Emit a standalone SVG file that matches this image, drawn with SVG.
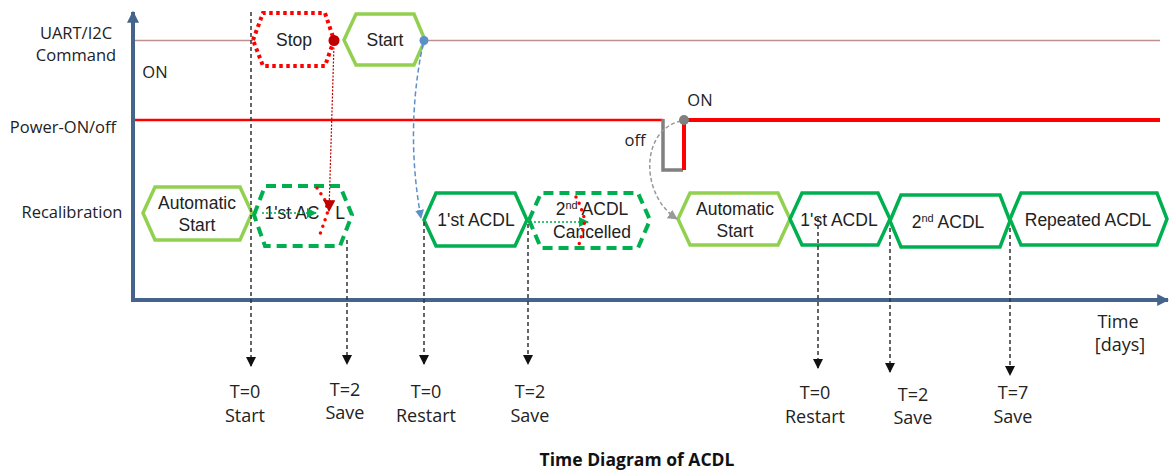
<svg xmlns="http://www.w3.org/2000/svg" width="1169" height="474" viewBox="0 0 1169 474">
<defs>
<style>
.lbl{font-family:"Open Sans","Liberation Sans",sans-serif;font-size:16.5px;fill:#222;text-anchor:middle}
.tl{font-family:"Open Sans","Liberation Sans",sans-serif;font-size:18px;fill:#222;text-anchor:middle}
.hx{font-family:"Liberation Sans",Arial,sans-serif;font-size:17.5px;fill:#222;text-anchor:middle}
.sup{font-size:11px}
.lg{fill:#fff;stroke:#92d050;stroke-width:3.5}
.dg{fill:#fff;stroke:#00b050;stroke-width:3.5}
.dgd{fill:#fff;stroke:#00b050;stroke-width:4;stroke-dasharray:10 6}
.vd{stroke:#333;stroke-width:1.5;stroke-dasharray:4 3;fill:none}
</style>
<marker id="ab" viewBox="0 0 10 10" refX="9" refY="5" markerWidth="10" markerHeight="10" markerUnits="userSpaceOnUse" orient="auto"><path d="M0,0 L10,5 L0,10 Z" fill="#111"/></marker>
<marker id="ax" viewBox="0 0 10 10" refX="9" refY="5" markerWidth="12" markerHeight="12" markerUnits="userSpaceOnUse" orient="auto"><path d="M0,0 L10,5 L0,10 Z" fill="#44648c"/></marker>
<marker id="ar" viewBox="0 0 10 10" refX="9" refY="5" markerWidth="12" markerHeight="12" markerUnits="userSpaceOnUse" orient="auto"><path d="M0,0 L10,5 L0,10 Z" fill="#c00000"/></marker>
<marker id="abl" viewBox="0 0 10 10" refX="9" refY="5" markerWidth="9" markerHeight="9" markerUnits="userSpaceOnUse" orient="auto"><path d="M0,0 L10,5 L0,10 Z" fill="#5b8fc9"/></marker>
<marker id="agr" viewBox="0 0 10 10" refX="9" refY="5" markerWidth="10" markerHeight="10" markerUnits="userSpaceOnUse" orient="auto"><path d="M0,0 L10,5 L0,10 Z" fill="#999"/></marker>
<marker id="agn" viewBox="0 0 10 10" refX="9" refY="5" markerWidth="10" markerHeight="10" markerUnits="userSpaceOnUse" orient="auto"><path d="M0,0 L10,5 L0,10 Z" fill="#00b050"/></marker>
</defs>
<rect width="1169" height="474" fill="#fff"/>

<g id="labels">
<text class="lbl" x="76" y="39">UART/I2C</text>
<text class="lbl" x="76" y="61">Command</text>
<text class="lbl" x="63" y="133">Power-ON/off</text>
<text class="lbl" x="72" y="218">Recalibration</text>
<text class="lbl" x="155" y="78">ON</text>
<text class="lbl" x="700" y="106">ON</text>
<text class="lbl" x="635" y="146">off</text>
<text class="tl" x="1118" y="328">Time</text>
<text class="tl" x="1120" y="351">[days]</text>
</g>

<g id="signals">
<line x1="135" y1="40.5" x2="253" y2="40.5" stroke="#c09090" stroke-width="1.5"/>
<line x1="425" y1="40.5" x2="1160" y2="40.5" stroke="#c09090" stroke-width="1.5"/>
<line x1="135" y1="120" x2="663" y2="120" stroke="#ff0000" stroke-width="2.5"/>
<polyline points="663,119 663,170 683,170" fill="none" stroke="#808080" stroke-width="3.5"/>
<polyline points="684,170 684,120 1160,120" fill="none" stroke="#ff0000" stroke-width="4"/>
</g>

<g id="axes">
<line x1="133" y1="300" x2="133" y2="12" stroke="#44648c" stroke-width="4" marker-end="url(#ax)"/>
<line x1="131" y1="300" x2="1168" y2="300" stroke="#44648c" stroke-width="4" marker-end="url(#ax)"/>
</g>

<g id="n-stop">
<polygon points="253,40 263,13 325,13 334,40 325,66 263,66" fill="#fff" stroke="#ff0000" stroke-width="4" stroke-dasharray="3.5 3.5"/>
<text class="hx" x="294" y="46">Stop</text>
</g>
<g id="n-start">
<polygon class="lg" points="344,40 356,14 414,14 425,40 414,65 356,65"/>
<text class="hx" x="385" y="46">Start</text>
</g>
<g id="n-auto1">
<polygon class="lg" points="143,213 155,187 240,187 252,213 240,240 155,240"/>
<text class="hx" x="197" y="209">Automatic</text>
<text class="hx" x="197" y="231">Start</text>
</g>
<g id="n-acdl1a">
<polygon class="dgd" points="254,215 265,186 340,186 352,215 340,246 265,246"/>
<text class="hx" x="292" y="219">1'st AC</text>
<text class="hx" x="340" y="219">L</text>
</g>
<g id="n-acdl1b">
<polygon class="dg" points="424,220 436,193 515,193 527,220 515,246 436,246"/>
<text class="hx" x="476" y="226">1'st ACDL</text>
</g>
<g id="n-acdl2c">
<polygon class="dgd" points="529,220 541,193 638,193 650,220 638,248 541,248"/>
<text class="hx" x="592" y="215">2<tspan class="sup" dy="-6">nd</tspan><tspan dy="6"> ACDL</tspan></text>
<text class="hx" x="592" y="238">Cancelled</text>
</g>
<g id="n-auto2">
<polygon class="lg" points="678,219 690,193 778,193 790,219 778,245 690,245"/>
<text class="hx" x="735" y="215">Automatic</text>
<text class="hx" x="735" y="237">Start</text>
</g>
<g id="n-acdl1c">
<polygon class="dg" points="790,219 802,193 878,193 890,219 878,245 802,245"/>
<text class="hx" x="839" y="226">1'st ACDL</text>
</g>
<g id="n-acdl2">
<polygon class="dg" points="890,221 901,195 1000,195 1010,221 1000,247 901,247"/>
<text class="hx" x="948" y="228">2<tspan class="sup" dy="-6">nd</tspan><tspan dy="6"> ACDL</tspan></text>
</g>
<g id="n-rep">
<polygon class="dg" points="1010,219 1021,193 1157,193 1167,219 1157,245 1021,245"/>
<text class="hx" x="1088" y="226">Repeated  ACDL</text>
</g>

<g id="connectors">
<line class="vd" x1="251" y1="12" x2="251" y2="366" marker-end="url(#ab)"/>
<line class="vd" x1="347" y1="240" x2="347" y2="364" marker-end="url(#ab)"/>
<line class="vd" x1="424" y1="222" x2="424" y2="364" marker-end="url(#ab)"/>
<line class="vd" x1="528" y1="224" x2="528" y2="364" marker-end="url(#ab)"/>
<line class="vd" x1="818" y1="218" x2="818" y2="368" marker-end="url(#ab)"/>
<line class="vd" x1="890" y1="228" x2="890" y2="372" marker-end="url(#ab)"/>
<line class="vd" x1="1010" y1="228" x2="1010" y2="375" marker-end="url(#ab)"/>

<line x1="262" y1="213" x2="316" y2="213" stroke="#00b050" stroke-width="1.5" stroke-dasharray="2 2" marker-end="url(#agn)"/>
<line x1="530" y1="222" x2="588" y2="222" stroke="#00b050" stroke-width="1.5" stroke-dasharray="2 2" marker-end="url(#agn)"/>

<polyline points="317,188 325,200 328,211 324,223 319,237" fill="none" stroke="#ff0000" stroke-width="3.5" stroke-dasharray="0 7" stroke-linecap="round"/>
<polyline points="576,197 580,205 585,220 582,234 578,248" fill="none" stroke="#ff0000" stroke-width="3.5" stroke-dasharray="0 7" stroke-linecap="round"/>

<line x1="334" y1="44" x2="329" y2="211" stroke="#c00000" stroke-width="1.2" stroke-dasharray="2 1.5" marker-end="url(#ar)"/>
<circle cx="334" cy="40.5" r="5.5" fill="#c00000"/>

<path d="M423,44 Q405,130 421,218" fill="none" stroke="#5b8fc9" stroke-width="1.5" stroke-dasharray="5 3" marker-end="url(#abl)"/>
<circle cx="424" cy="40.5" r="4.5" fill="#5b8fc9"/>

<path d="M681,121 C640,130 640,195 677,219" fill="none" stroke="#999" stroke-width="1.5" stroke-dasharray="4 2.5" marker-end="url(#agr)"/>
<circle cx="684" cy="120" r="5" fill="#808080"/>
</g>

<g id="tlabels">
<text class="tl" x="245" y="398">T=0</text>
<text class="tl" x="245" y="422">Start</text>
<text class="tl" x="345" y="396">T=2</text>
<text class="tl" x="345" y="419">Save</text>
<text class="tl" x="426" y="398">T=0</text>
<text class="tl" x="426" y="422">Restart</text>
<text class="tl" x="530" y="398">T=2</text>
<text class="tl" x="530" y="422">Save</text>
<text class="tl" x="815" y="399">T=0</text>
<text class="tl" x="815" y="423">Restart</text>
<text class="tl" x="913" y="401">T=2</text>
<text class="tl" x="913" y="424">Save</text>
<text class="tl" x="1013" y="399">T=7</text>
<text class="tl" x="1013" y="423">Save</text>
<text x="637" y="466" font-family="'Open Sans','Liberation Sans',sans-serif" font-size="17.5" font-weight="bold" text-anchor="middle" fill="#111">Time Diagram of ACDL</text>
</g>
</svg>
